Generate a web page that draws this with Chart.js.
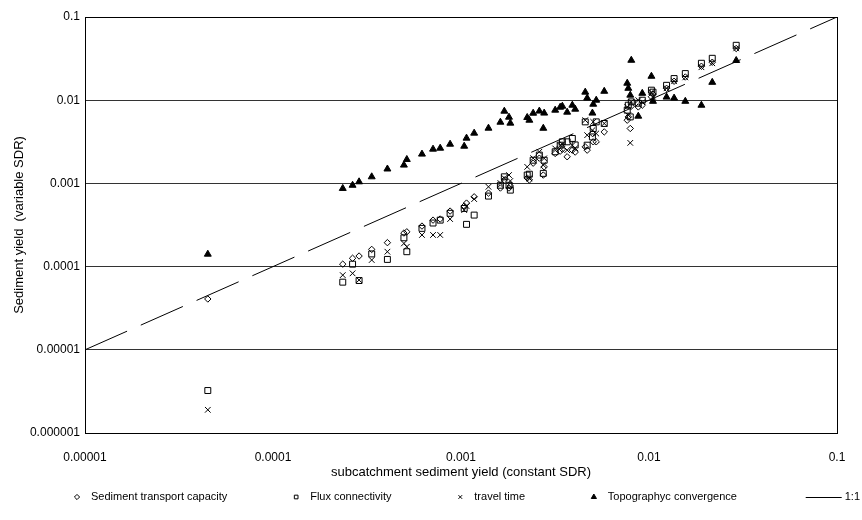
<!DOCTYPE html>
<html lang="en">
<head>
<meta charset="UTF-8" />
<title>Sediment yield: variable vs constant SDR</title>
<script src="https://cdn.jsdelivr.net/npm/chart.js"></script>
<style>
  html, body { margin: 0; padding: 0; background: #fff; }
  #wrap { width: 862px; height: 520px; }
</style>
</head>
<body>
<div id="wrap"><canvas id="sedChart" width="862" height="520"></canvas></div>
<script>
// subcatchment sediment yield with a constant SDR (x), one entry per subcatchment
const subcatchment = [4.5e-5, 2.35e-4, 2.65e-4, 2.87e-4, 3.35e-4, 4.06e-4, 4.97e-4, 5.15e-4, 6.2e-4, 7.1e-4,
    7.75e-4, 8.75e-4, 1.04e-3, 1.07e-3, 1.175e-3, 1.4e-3, 1.62e-3, 1.7e-3, 1.8e-3, 1.83e-3,
    2.25e-3, 2.31e-3, 2.42e-3, 2.61e-3, 2.77e-3, 2.74e-3, 3.17e-3, 3.37e-3, 3.46e-3, 3.67e-3,
    3.91e-3, 4.05e-3, 4.58e-3, 4.69e-3, 5.05e-3, 5.24e-3, 5.0e-3, 5.78e-3, 7.66e-3, 7.76e-3,
    7.95e-3, 8.05e-3, 8.77e-3, 9.21e-3, 1.03e-2, 1.05e-2, 1.24e-2, 1.36e-2, 1.56e-2, 1.9e-2,
    2.17e-2, 2.91e-2];

// sediment yield with a variable SDR, one array per SDR method
const transportCapacity = [4.08e-5, 1.07e-4, 1.26e-4, 1.34e-4, 1.61e-4, 1.94e-4, 2.53e-4, 2.62e-4, 3.07e-4, 3.62e-4,
    3.73e-4, 4.65e-4, 5.34e-4, 5.8e-4, 6.9e-4, 7.65e-4, 8.8e-4, 1.1e-3, 8.8e-4, 9.3e-4,
    1.16e-3, 1.1e-3, 1.75e-3, 2.01e-3, 1.58e-3, 1.26e-3, 2.29e-3, 2.44e-3, 2.58e-3, 2.09e-3,
    2.51e-3, 2.38e-3, 2.75e-3, 2.51e-3, 3.16e-3, 3.16e-3, 3.98e-3, 4.16e-3, 5.75e-3, 6.3e-3,
    4.57e-3, 8.47e-3, 8.3e-3, 8.71e-3, 1.1e-2, 1.18e-2, 1.39e-2, 1.69e-2, 1.9e-2, 2.56e-2,
    2.86e-2, 4.18e-2];

const fluxConnectivity = [3.24e-6, 6.5e-5, 1.07e-4, 6.8e-5, 1.42e-4, 1.22e-4, 2.22e-4, 1.51e-4, 2.88e-4, 3.34e-4,
    3.62e-4, 4.37e-4, 5.0e-4, 3.22e-4, 4.16e-4, 7.04e-4, 9.5e-4, 1.2e-3, 9.5e-4, 8.3e-4,
    1.26e-3, 1.29e-3, 1.9e-3, 2.19e-3, 1.9e-3, 1.32e-3, 2.4e-3, 2.88e-3, 3.16e-3, 3.16e-3,
    3.47e-3, 2.9e-3, 5.49e-3, 2.88e-3, 4.57e-3, 5.49e-3, 3.62e-3, 5.25e-3, 7.59e-3, 8.71e-3,
    6.3e-3, 9.55e-3, 9.2e-3, 1.0e-2, 1.32e-2, 1.25e-2, 1.51e-2, 1.82e-2, 2.09e-2, 2.78e-2,
    3.19e-2, 4.57e-2];

const travelTime = [1.9e-6, 7.9e-5, 8.3e-5, 6.9e-5, 1.2e-4, 1.51e-4, 1.9e-4, 1.73e-4, 2.4e-4, 2.4e-4,
    2.4e-4, 3.73e-4, 4.78e-4, 5.34e-4, 6.48e-4, 9.1e-4, 1.01e-3, 1.16e-3, 1.26e-3, 1.07e-3,
    1.58e-3, 1.15e-3, 2.01e-3, 2.4e-3, 2.0e-3, 1.66e-3, 2.63e-3, 2.85e-3, 2.96e-3, 2.51e-3,
    2.88e-3, 2.65e-3, 5.75e-3, 3.8e-3, 5.49e-3, 3.98e-3, 4.36e-3, 5.25e-3, 8.3e-3, 6.6e-3,
    3.07e-3, 9.55e-3, 1.0e-2, 9.46e-3, 1.25e-2, 1.1e-2, 1.39e-2, 1.69e-2, 1.88e-2, 2.49e-2,
    2.78e-2, 4.2e-2];

const topoConvergence = [1.41e-4, 8.7e-4, 9.5e-4, 1.045e-3, 1.2e-3, 1.49e-3, 1.66e-3, 1.94e-3, 2.25e-3, 2.58e-3,
    2.65e-3, 2.96e-3, 2.8e-3, 3.5e-3, 4.02e-3, 4.61e-3, 5.44e-3, 7.38e-3, 6.25e-3, 5.3e-3,
    6.2e-3, 5.75e-3, 6.98e-3, 7.4e-3, 7.0e-3, 4.6e-3, 7.59e-3, 8.24e-3, 8.47e-3, 7.18e-3,
    8.71e-3, 7.8e-3, 1.25e-2, 1.06e-2, 8.95e-3, 1.0e-2, 7.0e-3, 1.28e-2, 1.6e-2, 1.39e-2,
    1.15e-2, 3.02e-2, 6.43e-3, 1.21e-2, 1.94e-2, 9.7e-3, 1.09e-2, 1.06e-2, 9.7e-3, 8.7e-3,
    1.64e-2, 3.0e-2];

// 1:1 reference line ends
const oneToOne = [0.00001, 0.1];

const xTicks = [0.00001, 0.0001, 0.001, 0.01, 0.1];
const xTickLabels = ["0.00001", "0.0001", "0.001", "0.01", "0.1"];
const yTicks = [0.000001, 0.00001, 0.0001, 0.001, 0.01, 0.1];
const yTickLabels = ["0.000001", "0.00001", "0.0001", "0.001", "0.01", "0.1"];

const FONT = "'Liberation Sans', Arial, sans-serif";

function pairs(ys) {
    return subcatchment.map((x, i) => ({ x: x, y: ys[i] }));
}

function markerSet(label, data, style, radius, filled) {
    return {
        label: label,
        data: pairs(data),
        pointStyle: style,
        pointRadius: radius,
        pointBorderWidth: 1,
        pointBorderColor: "#000",
        pointBackgroundColor: filled ? "#000" : "rgba(0,0,0,0)",
        showLine: false,
    };
}

// box round the plot area
const framePlugin = {
    id: "frame",
    afterDraw(chart) {
        const a = chart.chartArea;
        const ctx = chart.ctx;
        ctx.save();
        ctx.strokeStyle = "#000";
        ctx.lineWidth = 1;
        ctx.strokeRect(Math.round(a.left) + 0.5, Math.round(a.top) + 0.5,
            Math.round(a.right - a.left), Math.round(a.bottom - a.top));
        ctx.restore();
    },
};

// one-row legend under the axis title, spread over the width like the original
const legendPlugin = {
    id: "rowLegend",
    afterDraw(chart) {
        const ctx = chart.ctx;
        const sets = chart.data.datasets;
        const y = 497;
        const startX = 77;
        const endX = 860;
        const toText = 14;
        const lineLen = 36;
        ctx.save();
        ctx.font = "11px " + FONT;
        ctx.textBaseline = "middle";
        ctx.fillStyle = "#000";
        let used = 0;
        const widths = sets.map((ds) => ctx.measureText(ds.label).width);
        sets.forEach((ds, i) => {
            used += (ds.showLine ? lineLen + 3 : toText) + widths[i];
        });
        const gap = (endX - startX - used) / (sets.length - 1);
        let x = startX;
        sets.forEach((ds, i) => {
            if (ds.showLine) {
                ctx.strokeStyle = "#000";
                ctx.lineWidth = 1;
                ctx.beginPath();
                ctx.moveTo(x, Math.round(y) + 0.5);
                ctx.lineTo(x + lineLen, Math.round(y) + 0.5);
                ctx.stroke();
                x += lineLen + 3;
            } else {
                ctx.strokeStyle = "#000";
                ctx.lineWidth = 1;
                ctx.fillStyle = ds.pointBackgroundColor;
                Chart.helpers.drawPoint(ctx, {
                    pointStyle: ds.pointStyle,
                    radius: ds.pointStyle === "triangle" ? 3 : 2.6,
                    rotation: 0,
                    borderWidth: 1,
                }, x, y);
                x += toText;
            }
            ctx.fillStyle = "#000";
            ctx.fillText(ds.label, x, y);
            x += widths[i] + gap;
        });
        ctx.restore();
    },
};

const ctx = document.getElementById("sedChart").getContext("2d");

new Chart(ctx, {
    type: "scatter",
    data: {
        datasets: [
            markerSet("Sediment transport capacity", transportCapacity, "rectRot", 3.2, false),
            markerSet("Flux connectivity", fluxConnectivity, "rect", 4.2, false),
            markerSet("travel time", travelTime, "crossRot", 4, false),
            markerSet("Topographyc convergence", topoConvergence, "triangle", 4, true),
            {
                label: "1:1",
                data: oneToOne.map((v) => ({ x: v, y: v })),
                showLine: true,
                borderColor: "#000",
                borderWidth: 1,
                borderDash: [46, 15],
                pointRadius: 0,
                fill: false,
            },
        ],
    },
    options: {
        responsive: false,
        animation: false,
        devicePixelRatio: 1,
        layout: { padding: { top: 17, right: 25, left: 0, bottom: 0 } },
        plugins: {
            legend: { display: false },
            tooltip: { enabled: false },
        },
        scales: {
            x: {
                type: "logarithmic",
                min: 0.00001,
                max: 0.1,
                grid: { display: false },
                border: { display: false },
                afterBuildTicks: (s) => { s.ticks = xTicks.map((v) => ({ value: v })); },
                afterFit: (s) => { s.height = 87; },
                ticks: {
                    callback: (v, i) => xTickLabels[i],
                    color: "#000",
                    font: { family: FONT, size: 12 },
                    padding: 9,
                    autoSkip: false,
                    maxRotation: 0,
                },
                title: {
                    display: true,
                    text: "subcatchment sediment yield (constant SDR)",
                    color: "#000",
                    font: { family: FONT, size: 13 },
                    padding: { top: 0, bottom: 40 },
                },
            },
            y: {
                type: "logarithmic",
                min: 0.000001,
                max: 0.1,
                grid: { color: "#333", lineWidth: 1, drawTicks: false },
                border: { display: false },
                afterBuildTicks: (s) => { s.ticks = yTicks.map((v) => ({ value: v })); },
                afterFit: (s) => { s.width = 85; },
                ticks: {
                    callback: (v, i) => yTickLabels[i],
                    color: "#000",
                    font: { family: FONT, size: 12 },
                    padding: 5,
                    autoSkip: false,
                },
                title: {
                    display: true,
                    text: "Sediment yield  (variable SDR)",
                    color: "#000",
                    font: { family: FONT, size: 13 },
                    padding: { top: 12, bottom: 0 },
                },
            },
        },
    },
    plugins: [framePlugin, legendPlugin],
});
</script>
</body>
</html>
